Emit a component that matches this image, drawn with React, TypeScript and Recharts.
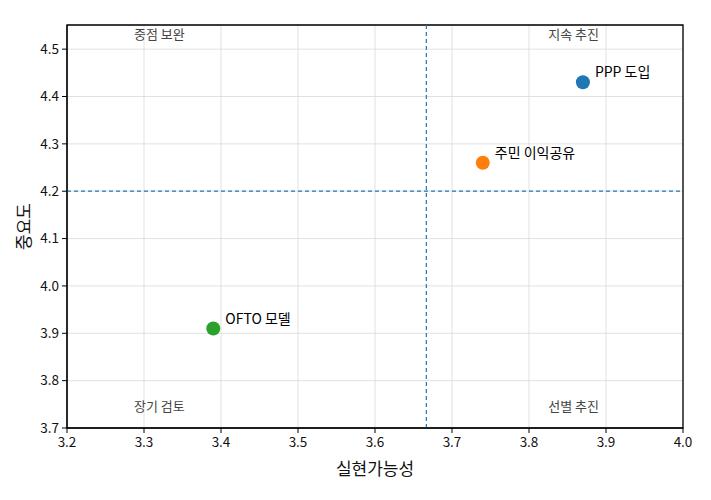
import React from 'react';
import {
  ScatterChart,
  Scatter,
  XAxis,
  YAxis,
  CartesianGrid,
  ReferenceLine,
  ReferenceArea,
  Cell,
} from 'recharts';

const FONT = '"Noto Sans CJK KR", "Noto Sans", sans-serif';

// 정책 항목
const items = ['PPP 도입', '주민 이익공유', 'OFTO 모델'];
const feasibility = [3.87, 3.74, 3.39];
const importance = [4.43, 4.26, 3.91];
const colors = ['#1f77b4', '#ff7f0e', '#2ca02c'];

// 사분면 라벨
const quadNames = ['중점 보완', '지속 추진', '장기 검토', '선별 추진'];
const quadX = [3.32, 3.858, 3.32, 3.858];
const quadY = [4.534, 4.534, 3.748, 3.748];

const xTicks = [3.2, 3.3, 3.4, 3.5, 3.6, 3.7, 3.8, 3.9, 4.0];
const yTicks = [3.7, 3.8, 3.9, 4.0, 4.1, 4.2, 4.3, 4.4, 4.5];

const points = items.map((name, i) => ({
  name,
  x: feasibility[i],
  y: importance[i],
}));

const quadrants = quadNames.map((name, i) => ({
  name,
  x: quadX[i],
  y: quadY[i],
}));

const meanX = feasibility.reduce((a, b) => a + b, 0) / feasibility.length;
const meanY = importance.reduce((a, b) => a + b, 0) / importance.length;

const PointShape = (props: any) => {
  const { cx, cy, fill, payload } = props;
  return (
    <g>
      <circle cx={cx} cy={cy} r={7} fill={fill} />
      <text
        x={cx + 12}
        y={cy - 5}
        fontSize={14}
        fontFamily={FONT}
        fill="#000"
      >
        {payload.name}
      </text>
    </g>
  );
};

const QuadShape = (props: any) => {
  const { cx, cy, payload } = props;
  return (
    <text
      x={cx}
      y={cy}
      fontSize={13}
      fontFamily={FONT}
      fill="#444"
      textAnchor="middle"
      dominantBaseline="central"
    >
      {payload.name}
    </text>
  );
};

const YLabel = (props: any) => {
  const { viewBox } = props;
  const cy = viewBox.y + viewBox.height / 2;
  return (
    <text
      x={22}
      y={cy}
      transform={`rotate(-90, 22, ${cy})`}
      textAnchor="middle"
      dominantBaseline="central"
      fontSize={17}
      fontFamily={FONT}
      fill="#111"
    >
      중요도
    </text>
  );
};

const App: React.FC = () => {
  return (
    <div style={{ position: 'absolute', left: 0, top: 0, background: '#fff' }}>
      <ScatterChart
        width={711}
        height={500}
        margin={{ top: 25, right: 28, bottom: 20, left: 0 }}
      >
        <CartesianGrid stroke="#d9d9d9" strokeWidth={0.8} />
        <XAxis
          type="number"
          dataKey="x"
          domain={[3.2, 4.0]}
          ticks={xTicks}
          tickFormatter={(v: number) => v.toFixed(1)}
          height={52}
          stroke="#000"
          tickSize={5}
          tickMargin={4}
          tick={{ fontSize: 13.5, fontFamily: FONT, fill: '#111' }}
          allowDataOverflow
          label={{
            value: '실현가능성',
            position: 'insideBottom',
            offset: 5,
            style: { fontSize: 17, fontFamily: FONT, fill: '#111' },
          }}
        />
        <YAxis
          type="number"
          dataKey="y"
          domain={[3.7, 4.551]}
          ticks={yTicks}
          tickFormatter={(v: number) => v.toFixed(1)}
          width={67}
          stroke="#000"
          tickSize={5}
          tickMargin={3}
          tick={{ fontSize: 13.5, fontFamily: FONT, fill: '#111' }}
          allowDataOverflow
          label={<YLabel />}
        />
        <ReferenceLine x={meanX} stroke="#1f77b4" strokeDasharray="4 3" strokeWidth={1.2} />
        <ReferenceLine y={meanY} stroke="#1f77b4" strokeDasharray="4 3" strokeWidth={1.2} />
        <Scatter data={quadrants} shape={QuadShape} isAnimationActive={false} />
        <Scatter data={points} shape={PointShape} isAnimationActive={false}>
          {points.map((p, i) => (
            <Cell key={`cell-${i}`} fill={colors[i]} />
          ))}
        </Scatter>
        <ReferenceArea
          x1={3.2}
          x2={4.0}
          y1={3.7}
          y2={4.551}
          fill="none"
          fillOpacity={0}
          stroke="#000"
          strokeWidth={1.3}
          ifOverflow="visible"
        />
      </ScatterChart>
    </div>
  );
};

export default App;
